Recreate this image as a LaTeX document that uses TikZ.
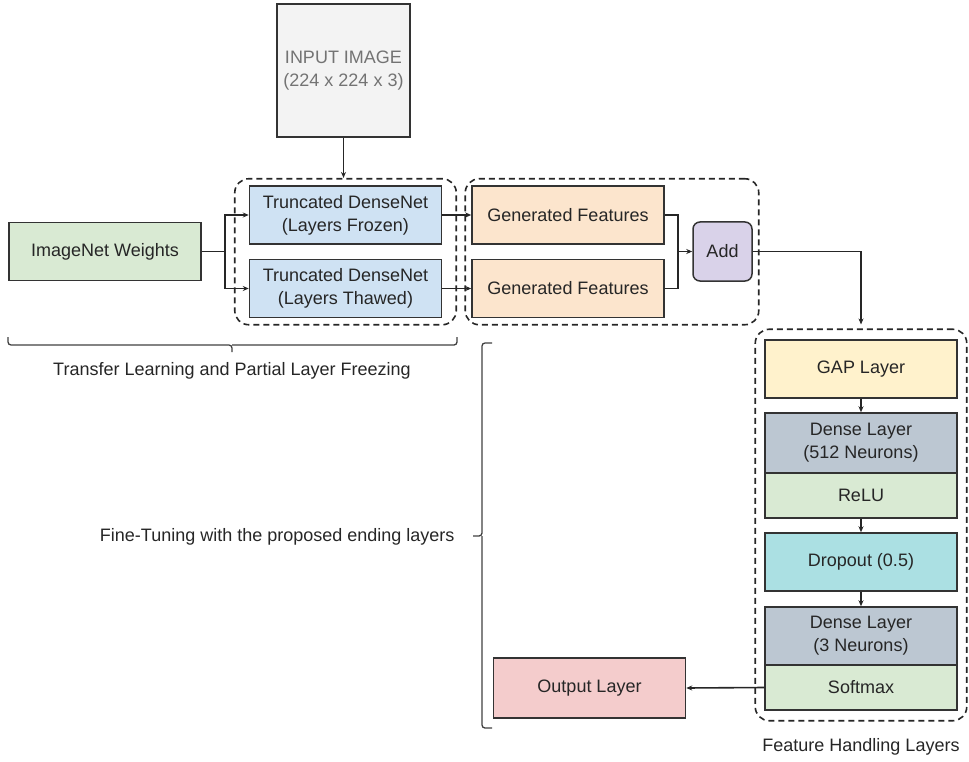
\documentclass[tikz,border=0pt]{standalone}
\usepackage{fontspec}
\setmainfont{Liberation Sans}
\usetikzlibrary{arrows.meta,fit}

\definecolor{inpgray}{HTML}{F3F3F3}
\definecolor{frzblue}{HTML}{CFE2F3}
\definecolor{featorange}{HTML}{FCE5CD}
\definecolor{addpurple}{HTML}{D9D2E9}
\definecolor{actgreen}{HTML}{D9EAD3}
\definecolor{gapyellow}{HTML}{FFF2CC}
\definecolor{densegray}{HTML}{BCC7D2}
\definecolor{dropcyan}{HTML}{ABE0E3}
\definecolor{outpink}{HTML}{F4CCCC}

\begin{document}
\begin{tikzpicture}[x=1pt,y=-1pt,
    box/.style={draw=black!80, line width=1.5pt, minimum width=192pt, minimum height=58pt,
        inner sep=0pt, align=center, text=black!85, font=\fontsize{18}{23}\selectfont},
    grp/.style={draw=black!85, line width=1.6pt, dash pattern=on 6pt off 4pt, rounded corners=14pt},
    link/.style={draw=black!85, line width=1.6pt},
    arr/.style={draw=black!85, line width=1.1pt, -{Stealth[length=6pt,width=5pt]}},
    brk/.style={draw=black!75, line width=1.3pt, rounded corners=3pt},
    lbl/.style={text=black!85, font=\fontsize{18}{23}\selectfont}]

    \useasboundingbox (0,0) rectangle (969,762);

    % input and transfer learning part
    \node[box, fill=inpgray, minimum width=133pt, minimum height=133pt, text=black!55] (inp) at (343.5,70.5) {INPUT IMAGE\\(224 x 224 x 3)};
    \node[box, fill=actgreen] (imnet) at (105,251.5) {ImageNet Weights};
    \node[box, fill=frzblue] (tfrozen) at (345.5,215) {Truncated DenseNet\\(Layers Frozen)};
    \node[box, fill=frzblue] (tthawed) at (345.5,288.5) {Truncated DenseNet\\(Layers Thawed)};
    \node[box, fill=featorange] (gfeat1) at (568,215) {Generated Features};
    \node[box, fill=featorange] (gfeat2) at (568,288.5) {Generated Features};
    \node[box, fill=addpurple, minimum width=59pt, minimum height=59pt, rounded corners=7pt] (add) at (722.5,251.5) {Add};

    % ending layers
    \node[box, fill=gapyellow] (gap) at (861,369) {GAP Layer};
    \node[box, fill=densegray, minimum height=60pt] (dense1) at (861,443) {Dense Layer\\(512 Neurons)};
    \node[box, fill=actgreen, minimum height=45pt] (relu) at (861,495.5) {ReLU};
    \node[box, fill=dropcyan] (drop) at (861,562) {Dropout (0.5)};
    \node[box, fill=densegray] (dense2) at (861,636) {Dense Layer\\(3 Neurons)};
    \node[box, fill=actgreen, minimum height=45pt] (soft) at (861,687.5) {Softmax};
    \node[box, fill=outpink, minimum height=60pt] (outl) at (589.5,688) {Output Layer};

    % dashed groups
    \node[grp, fit=(tfrozen)(tthawed), inner xsep=14pt, inner ysep=6.5pt] (grpA) {};
    \node[grp, fit=(gfeat1)(gfeat2)(add), inner xsep=6pt, inner ysep=6.5pt] (grpB) {};
    \node[grp, fit=(gap)(soft), inner xsep=9pt, inner ysep=10pt] (grpC) {};

    % connectors
    \coordinate (splitA) at (225,251.5);
    \coordinate (joinB) at (678,251.5);
    \draw[arr] (inp.south) -- (inp.south |- grpA.north);
    \draw[link] (imnet.east) -- (splitA);
    \draw[arr] (splitA) |- (tfrozen.west);
    \draw[arr] (splitA) |- (tthawed.west);
    \draw[arr] (tfrozen.east) -- (gfeat1.west);
    \draw[arr] (tthawed.east) -- (gfeat2.west);
    \draw[link] (gfeat1.east) -| (joinB);
    \draw[link] (gfeat2.east) -| (joinB);
    \draw[arr] (joinB) -- (add.west);
    \draw[arr, line width=1.6pt] (add.east) -| ([yshift=4pt]grpC.north);
    \draw[arr] (gap.south) -- (dense1.north);
    \draw[arr] (relu.south) -- (drop.north);
    \draw[arr] (drop.south) -- (dense2.north);
    \draw[arr, line width=1.6pt] (soft.west) -- (outl.east);

    % brackets and their labels
    \coordinate (tipT) at (232,352);
    \coordinate (tipF) at (473,536);
    \draw[brk] (8,337) |- (232,345) -- (tipT);
    \draw[brk] (457,337) |- (232,345);
    \draw[brk] (492,343) -| (482,536) -- (tipF);
    \draw[brk] (492,728) -| (482,536);
    \node[lbl] (tlabel) at (232,371) {Transfer Learning and Partial Layer Freezing};
    \node[lbl, anchor=east] (flabel) at (458,537) {Fine-Tuning with the proposed ending layers};
    \node[lbl] (hlabel) at (861,747) {Feature Handling Layers};
\end{tikzpicture}
\end{document}
